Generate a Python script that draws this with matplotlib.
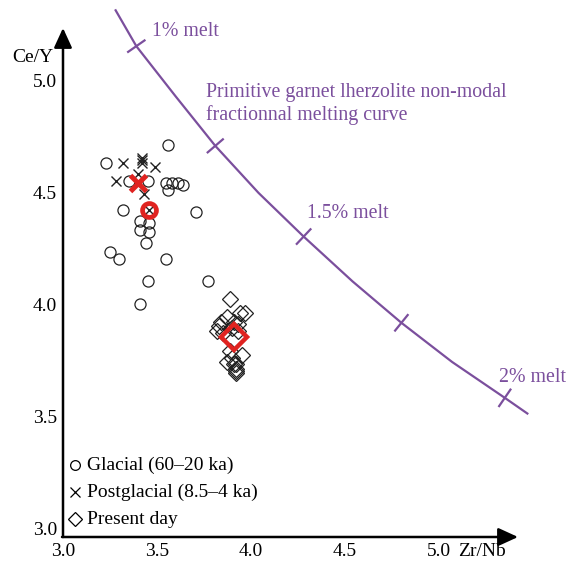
import matplotlib
matplotlib.use('Agg')
import matplotlib.pyplot as plt
import numpy as np

plt.rcParams['font.family'] = ['Liberation Serif', 'DejaVu Serif']

# Glacial (60-20 ka) samples
glacial_zr_nb = [3.56, 3.23, 3.35, 3.45, 3.55, 3.58, 3.61, 3.64, 3.56, 3.32, 3.71,
                 3.41, 3.46, 3.41, 3.46, 3.44, 3.25, 3.30, 3.55, 3.45, 3.77, 3.41]
glacial_ce_y = [4.72, 4.64, 4.56, 4.56, 4.55, 4.55, 4.55, 4.54, 4.52, 4.43, 4.42,
                4.38, 4.37, 4.34, 4.33, 4.28, 4.24, 4.21, 4.21, 4.11, 4.11, 4.01]

# Postglacial (8.5-4 ka) samples
postglacial_zr_nb = [3.32, 3.42, 3.42, 3.42, 3.49, 3.28, 3.40, 3.43, 3.46]
postglacial_ce_y = [4.64, 4.66, 4.65, 4.64, 4.62, 4.56, 4.59, 4.50, 4.43]

# Present day samples
present_zr_nb = [3.89, 3.97, 3.94, 3.87, 3.84, 3.91, 3.83, 3.93, 3.82, 3.90, 3.85,
                 3.93, 3.89, 3.95, 3.90, 3.87, 3.91, 3.92, 3.92, 3.92, 3.92]
present_ce_y = [4.03, 3.97, 3.97, 3.95, 3.93, 3.93, 3.91, 3.92, 3.89, 3.90, 3.88,
                3.89, 3.80, 3.78, 3.77, 3.75, 3.74, 3.74, 3.72, 3.71, 3.70]

# group means (red)
mean_glacial = (3.46, 4.43)
mean_postglacial = (3.40, 4.55)
mean_present = (3.91, 3.86)

# melting curve
curve_zr_nb = [3.28, 3.39, 3.60, 3.81, 4.04, 4.28, 4.54, 4.80, 5.07, 5.35, 5.47]
curve_ce_y = [5.32, 5.16, 4.935, 4.715, 4.505, 4.31, 4.11, 3.925, 3.75, 3.59, 3.52]
melt_idx = [1, 3, 5, 7, 9]
melt_labels = {1: '1% melt', 5: '1.5% melt', 9: '2% melt'}

ticks = [3.0, 3.5, 4.0, 4.5, 5.0]
tick_labels = ['3.0', '3.5', '4.0', '4.5', '5.0']

PURPLE = '#7b4f9d'
RED = '#e02320'
W, H = 579, 564


def pix(px, py):
    return 3 + (px - 63) / 188, 3 + (530 - py) / 224


fig = plt.figure(figsize=(W / 100, H / 100), dpi=100)
ax = fig.add_axes([0, 0, 1, 1])
x0, y1 = pix(0, 0)
x1, y0 = pix(W, H)
ax.set_xlim(x0, x1)
ax.set_ylim(y0, y1)
ax.axis('off')

# axes with arrows
ap = dict(arrowstyle='-|>,head_length=1.2,head_width=0.55', lw=1.8,
          color='black', shrinkA=0, shrinkB=0, mutation_scale=10)
ax.annotate('', xy=pix(63, 28), xytext=pix(63, 537), arrowprops=ap)
ax.annotate('', xy=pix(518, 537), xytext=pix(62, 537), arrowprops=ap)

fs = 14
fs_curve = 14.3
for t, lab in zip(ticks, tick_labels):
    ax.text(pix(57, 0)[0], t, lab, ha='right', va='center', fontsize=fs)
    ax.text(t, pix(0, 551)[1], lab, ha='center', va='center', fontsize=fs)
ax.text(*pix(33, 57), 'Ce/Y', ha='center', va='center', fontsize=fs)
ax.text(*pix(458, 551), 'Zr/Nb', ha='left', va='center', fontsize=fs)

# melting curve
ax.plot(curve_zr_nb, curve_ce_y, color=PURPLE, lw=1.6, solid_joinstyle='round')
disp = ax.transData.transform(np.column_stack([curve_zr_nb, curve_ce_y]))
inv = ax.transData.inverted()
for i in melt_idx:
    d = disp[min(i + 1, len(disp) - 1)] - disp[max(i - 1, 0)]
    n = np.array([-d[1], d[0]]) / np.hypot(*d)
    seg = inv.transform([disp[i] - 10 * n, disp[i] + 10 * n])
    ax.plot(seg[:, 0], seg[:, 1], color=PURPLE, lw=1.6)
ax.text(*pix(152, 31), melt_labels[1], color=PURPLE, fontsize=fs_curve, va='center')
ax.text(*pix(307, 213), melt_labels[5], color=PURPLE, fontsize=fs_curve, va='center')
ax.text(*pix(499, 378), melt_labels[9], color=PURPLE, fontsize=fs_curve, va='center')
ax.text(*pix(206, 104), 'Primitive garnet lherzolite non-modal\nfractionnal melting curve',
        color=PURPLE, fontsize=fs_curve, va='center', linespacing=1.25)

# samples
ax.plot(glacial_zr_nb, glacial_ce_y, 'o', ms=8, mfc='none', mec='#222222', mew=0.9)
ax.plot(postglacial_zr_nb, postglacial_ce_y, 'x', ms=7, mec='#222222', mew=1.0)
ax.plot(present_zr_nb, present_ce_y, 'D', ms=8, mfc='none', mec='#222222', mew=0.9)

# means
ax.plot(*mean_glacial, 'o', ms=10, mfc='none', mec=RED, mew=3.4)
ax.plot(*mean_postglacial, 'x', ms=11, mec=RED, mew=3.6)
ax.plot(*mean_present, 'D', ms=13, mfc='none', mec=RED, mew=3.2)

# legend
leg = [('o', 'Glacial (60–20 ka)', 465), ('x', 'Postglacial (8.5–4 ka)', 492),
       ('D', 'Present day', 519)]
for m, lab, py in leg:
    ax.plot(*pix(75, py), m, ms=7 if m != 'D' else 7.5, mfc='none', mec='black', mew=0.9)
    ax.text(*pix(87, py), lab, fontsize=fs, va='center')

fig.savefig('out.png', dpi=100)
